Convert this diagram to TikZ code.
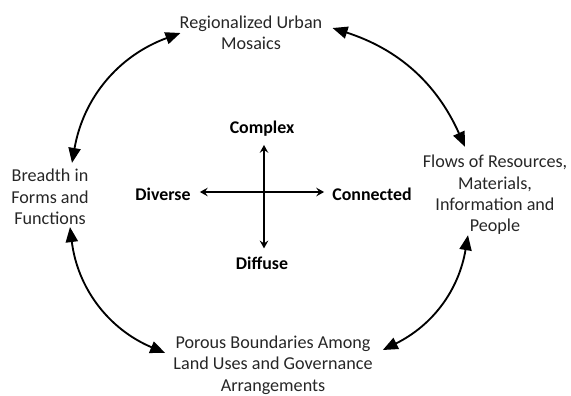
\documentclass[tikz,border=0pt]{standalone}
\usepackage{fontspec}
\setmainfont{Carlito}
\usepackage{tikz}
\usetikzlibrary{arrows.meta}

\begin{document}
\begin{tikzpicture}[x=0.7pt, y=-0.7pt,
    theme/.style={align=center, inner sep=0pt, text=black!85, font=\fontsize{12.7}{15}\selectfont},
    pole/.style={inner sep=0pt, font=\fontsize{12.5}{15}\selectfont\bfseries},
    link/.style={line width=1.3pt, {Triangle[length=10.5pt,width=8.5pt]}-{Triangle[length=10.5pt,width=8.5pt]}},
    spoke/.style={line width=1.2pt, {Stealth[length=5.5pt,width=6pt,inset=2pt]}-{Stealth[length=5.5pt,width=6pt,inset=2pt]}}]
            \useasboundingbox (0, 0) rectangle (571, 395);
            % the four themes round the cycle
            \node[theme] (region) at (251, 33) {Regionalized Urban\\Mosaics};
            \node[theme] (breadth) at (50, 197) {Breadth in\\Forms and\\Functions};
            \node[theme] (flows) at (495, 195) {Flows of Resources,\\Materials,\\Information and\\People};
            \node[theme] (porous) at (273, 365) {Porous Boundaries Among\\Land Uses and Governance\\Arrangements};
            \draw[link] ([shift={(22, -6)}]breadth.north) to[bend left=30] ([shift={(1, 0)}]region.west);
            \draw[link] ([shift={(10, -5)}]region.east) to[bend left=24] ([shift={(-30, -8)}]flows.north);
            \draw[link] ([shift={(-27, 0)}]flows.south) to[bend left=27] ([shift={(10, -15)}]porous.east);
            \draw[link] ([shift={(-8, -12)}]porous.west) to[bend left=30] ([shift={(20, 2)}]breadth.south);
            % the cross in the middle
            \node[pole] (complex) at (262, 129) {Complex};
            \node[pole] (diffuse) at (262, 263) {Diffuse};
            \node[pole] (diverse) at (163, 194) {Diverse};
            \node[pole] (connected) at (372, 194) {Connected};
            \draw[spoke] ([shift={(2, 8)}]complex.south) -- ([shift={(2, -8)}]diffuse.north);
            \draw[spoke] ([shift={(9, -2)}]diverse.east) -- ([shift={(-8, -2)}]connected.west);
        \end{tikzpicture}
\end{document}
